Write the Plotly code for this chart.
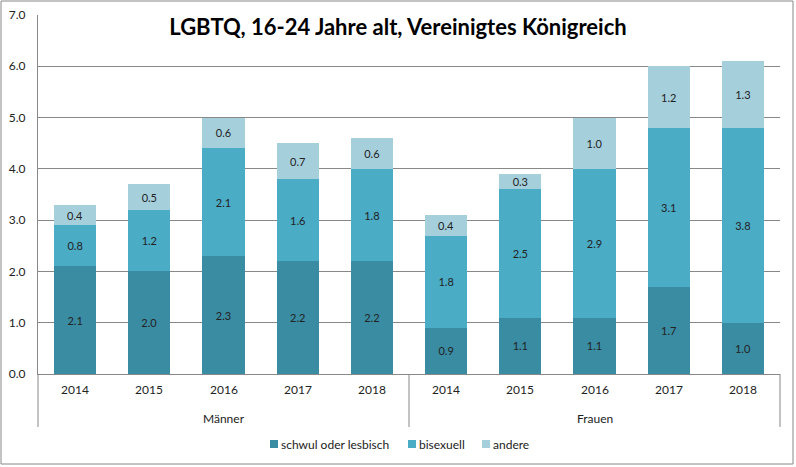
import plotly.graph_objects as go

groups = ["Männer"] * 5 + ["Frauen"] * 5
years = ["2014", "2015", "2016", "2017", "2018"] * 2
schwul = [2.1, 2.0, 2.3, 2.2, 2.2, 0.9, 1.1, 1.1, 1.7, 1.0]
bisexuell = [0.8, 1.2, 2.1, 1.6, 1.8, 1.8, 2.5, 2.9, 3.1, 3.8]
andere = [0.4, 0.5, 0.6, 0.7, 0.6, 0.4, 0.3, 1.0, 1.2, 1.3]
series_names = ["schwul oder lesbisch", "bisexuell", "andere"]
colors = ["#3a8ca3", "#4bacc6", "#a6cfdc"]

FONT = "Lato, Open Sans, sans-serif"
fig = go.Figure()
for name, vals, col in zip(series_names, [schwul, bisexuell, andere], colors):
    fig.add_trace(go.Bar(
        x=[groups, years], y=vals, name=name, showlegend=False,
        marker=dict(color=col, line=dict(width=0)),
        text=[f"{v:.1f}" for v in vals], textposition="inside",
        insidetextanchor="middle", textangle=0, constraintext="none",
        textfont=dict(size=11, color="#222222", family=FONT),
    ))

W, H = 796, 467
ml, mr, mt, mb = 38, 16, 15, 93
pw, ph = W - ml - mr, H - mt - mb
def px(x):
    return (x - ml) / pw
def py(y):
    return (H - mb - y) / ph

shapes = [dict(type="rect", xref="paper", yref="paper",
               x0=px(1), x1=px(W - 3), y0=py(H - 3), y1=py(1),
               line=dict(color="#888888", width=1), fillcolor="rgba(0,0,0,0)")]
annotations = []

# category axis labels (two levels) and dividers
n = len(years)
for i, yr in enumerate(years):
    annotations.append(dict(text=yr, xref="paper", yref="paper", x=(i + 0.5) / n,
                            y=py(389), xanchor="center", yanchor="middle", showarrow=False,
                            font=dict(size=12, color="#222222", family=FONT)))
group_order = list(dict.fromkeys(groups))
start = 0
bounds = [0]
for g in group_order:
    cnt = groups.count(g)
    annotations.append(dict(text=g, xref="paper", yref="paper", x=(start + cnt / 2) / n,
                            y=py(418), xanchor="center", yanchor="middle", showarrow=False,
                            font=dict(size=12, color="#222222", family=FONT)))
    start += cnt
    bounds.append(start)
for b in bounds:
    shapes.append(dict(type="line", xref="paper", yref="paper", x0=b / n, x1=b / n,
                       y0=0, y1=py(427), line=dict(color="#888888", width=1)))

# compact legend
leg_x = [270, 408, 482]
leg_y = 444
for name, col, lx in zip(series_names, colors, leg_x):
    shapes.append(dict(type="rect", xref="paper", yref="paper",
                       x0=px(lx), x1=px(lx + 8), y0=py(leg_y + 4), y1=py(leg_y - 4),
                       line=dict(width=0), fillcolor=col))
    annotations.append(dict(text=name, xref="paper", yref="paper",
                            x=px(lx + 9), y=py(leg_y), xanchor="left", yanchor="middle",
                            showarrow=False, font=dict(size=12, color="#222222", family=FONT)))

fig.update_layout(
    width=W, height=H, barmode="stack", bargap=0.43,
    margin=dict(l=ml, r=mr, t=mt, b=mb),
    paper_bgcolor="white", plot_bgcolor="white",
    font=dict(family=FONT, size=12, color="#222222"),
    title=dict(text="<b>LGBTQ, 16-24 Jahre alt, Vereinigtes Königreich</b>",
               x=0.5, xanchor="center", y=1 - 27 / H, yanchor="middle",
               font=dict(size=22, color="#000000", family=FONT)),
    showlegend=False,
    xaxis=dict(type="multicategory", showline=True, linecolor="#888888", linewidth=1,
               showdividers=False, showticklabels=False, ticks="", automargin=False),
    yaxis=dict(range=[0, 7], dtick=1, tickformat=".1f", showgrid=True,
               gridcolor="#888888", gridwidth=1, showline=True, linecolor="#888888",
               linewidth=1, ticks="", zeroline=False, tickfont=dict(size=12),
               ticklabelstandoff=9, automargin=False),
    shapes=shapes, annotations=annotations,
)
fig.write_html("out.html")
